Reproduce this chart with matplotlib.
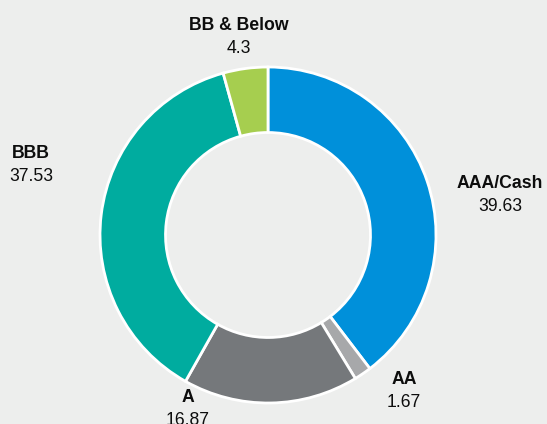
import matplotlib
matplotlib.use("Agg")
import matplotlib.pyplot as plt

categories = ["AAA/Cash", "AA", "A", "BBB", "BB & Below"]
values = [39.63, 1.67, 16.87, 37.53, 4.3]
value_labels = ["39.63", "1.67", "16.87", "37.53", "4.3"]
colors = ["#0090DA", "#A7A8AA", "#75787B", "#00AC9F", "#A6CE4F"]

# label x centre and baseline y (pixels from top)
label_pos = [(500, 188), (404, 384), (188, 402), (31, 158), (239, 30)]

W, H = 547, 424
bg = "#EDEEED"
plt.rcParams['font.family'] = ['Liberation Sans', 'DejaVu Sans']
fig = plt.figure(figsize=(W / 100, H / 100), dpi=100, facecolor=bg)

cx, cy, R = 268, 235, 168
ax = fig.add_axes([(cx - R) / W, (H - cy - R) / H, 2 * R / W, 2 * R / H])
ax.set_facecolor(bg)
ax.pie(values, colors=colors, startangle=90, counterclock=False, radius=1,
       wedgeprops=dict(width=0.39, edgecolor="white", linewidth=2))
ax.set_xlim(-1, 1)
ax.set_ylim(-1, 1)
ax.set_aspect("equal")
ax.axis("off")

for cat, vl, (px, py) in zip(categories, value_labels, label_pos):
    fig.text(px / W, 1 - py / H, cat, ha="center", va="baseline",
             fontsize=12.7, fontweight="bold", color="#0d0d0d")
    fig.text(px / W, 1 - (py + 23) / H, vl, ha="center", va="baseline",
             fontsize=12.7, color="#0d0d0d")

fig.savefig("out.png", dpi=100, facecolor=bg)
